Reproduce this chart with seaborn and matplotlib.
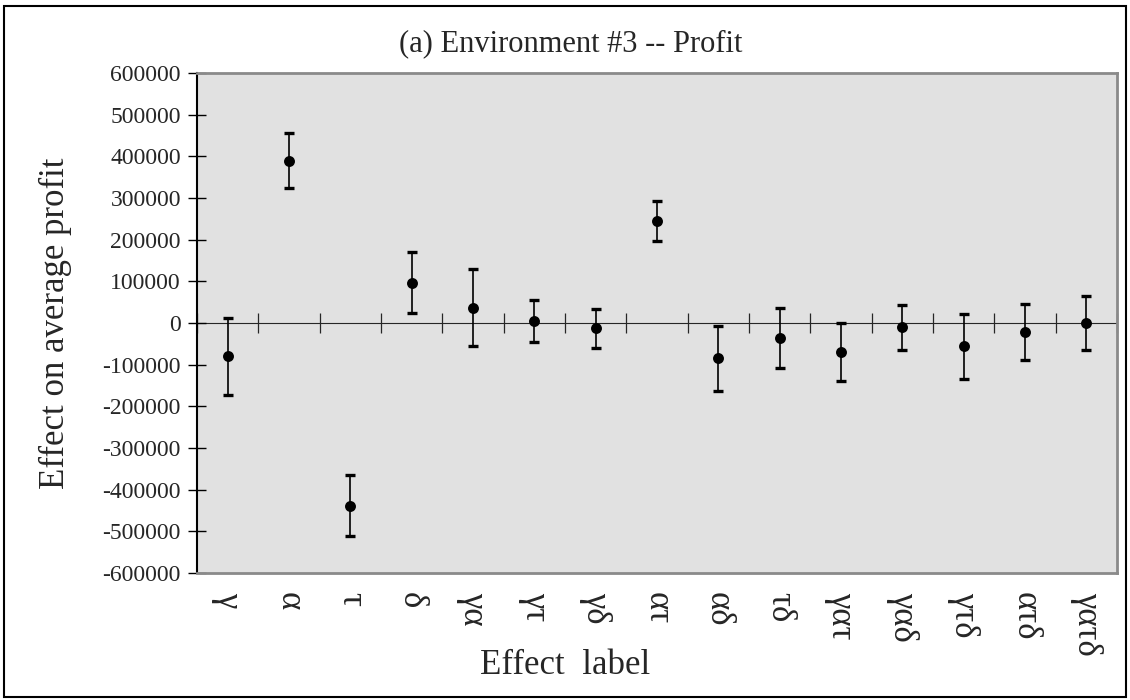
import numpy as np
import pandas as pd
import matplotlib
matplotlib.use("Agg")
import matplotlib.pyplot as plt
import seaborn as sns
from matplotlib.patches import Rectangle
from matplotlib.ticker import FuncFormatter

labels = ['γ', 'α', 'τ', 'δ', 'γα', 'γτ', 'γδ', 'ατ', 'αδ', 'τδ',
          'γατ', 'γαδ', 'γτδ', 'ατδ', 'γατδ']
effects = [-80000, 390000, -438000, 97000, 37000, 5000, -13000, 245000,
           -84000, -37000, -70000, -10000, -56000, -21000, 1000]
half_ci = [93000, 66000, 73000, 74000, 92000, 51000, 47000, 48000,
           78000, 72000, 70000, 54000, 78000, 67000, 65000]
yticks = np.arange(-600000, 600001, 100000)

df = pd.DataFrame({'label': labels, 'effect': effects, 'err': half_ci})

sns.set_style("white")
plt.rcParams['font.family'] = ['Liberation Serif', 'DejaVu Serif']
plt.rcParams['axes.unicode_minus'] = False

fig = plt.figure(figsize=(11.3, 7), dpi=100)
ax = fig.add_axes([0.1743, 0.1814, 0.8142, 0.7143])
ax.set_facecolor('#e1e1e1')

pos = np.arange(len(df))
ax.errorbar(pos, df['effect'], yerr=df['err'], fmt='none', ecolor='black',
            elinewidth=1.2, capsize=3.5, capthick=2.4, zorder=3)
sns.scatterplot(x=pos, y=df['effect'], ax=ax, color='black', s=62,
                linewidth=0, zorder=4)

ax.set_xlim(-0.5, len(df) - 0.5)
ax.set_ylim(-600000, 600000)
ax.set_yticks(yticks)
ax.yaxis.set_major_formatter(FuncFormatter(lambda v, p: f"{int(v)}"))
ax.tick_params(axis='y', direction='inout', length=13, width=1,
               labelsize=17, color='black', left=True, pad=5)

ax.set_xticks(pos)
ax.set_xticklabels(df['label'], rotation=270, fontsize=25, va='top')
ax.tick_params(axis='x', length=0, pad=14)

# zero line with crossing ticks between categories
zero = ax.secondary_xaxis(0.5)
zero.set_xticks(np.arange(-0.5, len(df), 1.0))
zero.tick_params(axis='x', direction='inout', length=14, width=0.9,
                 labelbottom=False, labeltop=False)
zero.spines['bottom'].set_linewidth(1.0)
zero.spines['bottom'].set_color('black')

for s in ['top', 'right', 'bottom']:
    ax.spines[s].set_color('#8a8a8a')
    ax.spines[s].set_linewidth(2)
ax.spines['left'].set_color('black')
ax.spines['left'].set_linewidth(1.5)

ax.set_xlabel('Effect  label', fontsize=25, va='center')
ax.xaxis.set_label_coords(0.40, -0.184)
ax.set_ylabel('Effect on average profit', fontsize=25, va='center')
ax.yaxis.set_label_coords(-0.154, 0.5)

fig.text(0.505, 1 - 44 / 700, '(a) Environment #3 -- Profit', fontsize=22,
         ha='center', va='center')

fig.patches.append(Rectangle((0.0035, 0.004), 0.993, 0.987, transform=fig.transFigure,
                             fill=False, edgecolor='black', linewidth=1.5))

fig.savefig('out.png', dpi=100)
